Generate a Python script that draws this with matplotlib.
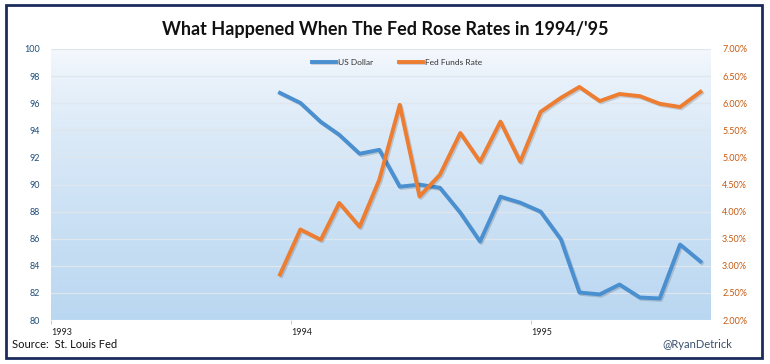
import numpy as np
import pandas as pd
import matplotlib
matplotlib.use("Agg")
import matplotlib.pyplot as plt
import matplotlib.patheffects as pe
from matplotlib.patches import Rectangle

plt.rcParams['font.family'] = ['Lato', 'DejaVu Sans']

# Monthly data, Dec 1993 - Sep 1995 (plotted mid-month)
months = pd.date_range("1993-12-01", periods=22, freq="MS") + pd.Timedelta(days=14)
us_dollar = [96.76, 96.02, 94.62, 93.67, 92.27, 92.56, 89.84, 89.99, 89.76, 87.92,
             85.79, 89.10, 88.66, 88.00, 85.94, 82.03, 81.89, 82.62, 81.66, 81.59,
             85.57, 84.32]
fed_funds = [2.84, 3.67, 3.48, 4.16, 3.72, 4.59, 5.97, 4.28, 4.68, 5.45,
             4.92, 5.66, 4.92, 5.84, 6.10, 6.30, 6.04, 6.17, 6.13, 5.99,
             5.93, 6.21]
year_ticks = ["1993", "1994", "1995"]

blue = "#4a8fd0"
orange = "#ed7d31"

fig = plt.figure(figsize=(7.7, 3.64), dpi=100)
ax = fig.add_axes([51 / 770, 1 - 320 / 364, 660 / 770, 271 / 364])

# gradient background
grad = np.linspace(0, 1, 256).reshape(-1, 1)
top = np.array([246, 249, 253]) / 255
bot = np.array([186, 215, 241]) / 255
img = top + (bot - top) * grad[..., None] ** 0.7
ax.imshow(img, extent=[0, 1, 0, 1], transform=ax.transAxes, aspect="auto", zorder=0)

shadow = [pe.SimpleLineShadow(offset=(1, -1), alpha=0.15), pe.Normal()]
ax2 = ax.twinx()
l1, = ax.plot(months, us_dollar, color=blue, lw=2.8, solid_joinstyle="round",
              zorder=3, path_effects=shadow)
l2, = ax2.plot(months, fed_funds, color=orange, lw=2.8, solid_joinstyle="round",
               zorder=3, path_effects=shadow)

ax.set_ylim(80, 100)
ax.set_yticks(range(80, 101, 2))
ax2.set_ylim(2, 7)
ax2.set_yticks(np.arange(2, 7.01, 0.5))
ax2.set_yticklabels([f"{v:.2f}%" for v in np.arange(2, 7.01, 0.5)])
ax.grid(axis="y", color="#dfe6ee", lw=0.9, zorder=1)

ax.set_xlim(pd.Timestamp("1993-01-01"), pd.Timestamp("1995-10-01"))
ax.set_xticks([pd.Timestamp(f"{y}-01-01") for y in year_ticks])
ax.set_xticklabels(year_ticks, ha="left")

for a in (ax, ax2):
    for s in a.spines.values():
        s.set_visible(False)
ax.tick_params(axis="y", length=0, labelsize=6.5, labelcolor="#1f4e79", pad=8)
ax2.tick_params(axis="y", length=0, labelsize=6.5, labelcolor="#c55a11", pad=8)
ax.tick_params(axis="x", length=3, color="#cccccc", labelsize=6.5, labelcolor="#222222", pad=3)

ax.legend([l1, l2], ["US Dollar", "Fed Funds Rate"], loc="center",
          bbox_to_anchor=(0.524, 0.952), ncol=2, frameon=False, fontsize=6,
          handlelength=2.9, handletextpad=0.2, columnspacing=3.1,
          labelcolor="#333333")

fig.text(385 / 770, 1 - 29 / 364, "What Happened When The Fed Rose Rates in 1994/'95",
         ha="center", va="center", fontsize=13, fontweight="bold", color="#111111")
fig.text(12 / 770, 1 - 345 / 364, "Source:  St. Louis Fed", ha="left", va="center",
         fontsize=8, color="#111111")
fig.text(732 / 770, 1 - 344 / 364, "@RyanDetrick", ha="right", va="center",
         fontsize=8, color="#3a5070")

fig.patches.append(Rectangle((6 / 770, 1 - 358 / 364), 756 / 770, 353 / 364,
                             transform=fig.transFigure, fill=False,
                             edgecolor="#1c2b5e", lw=2))

fig.savefig("out.png", dpi=100)
